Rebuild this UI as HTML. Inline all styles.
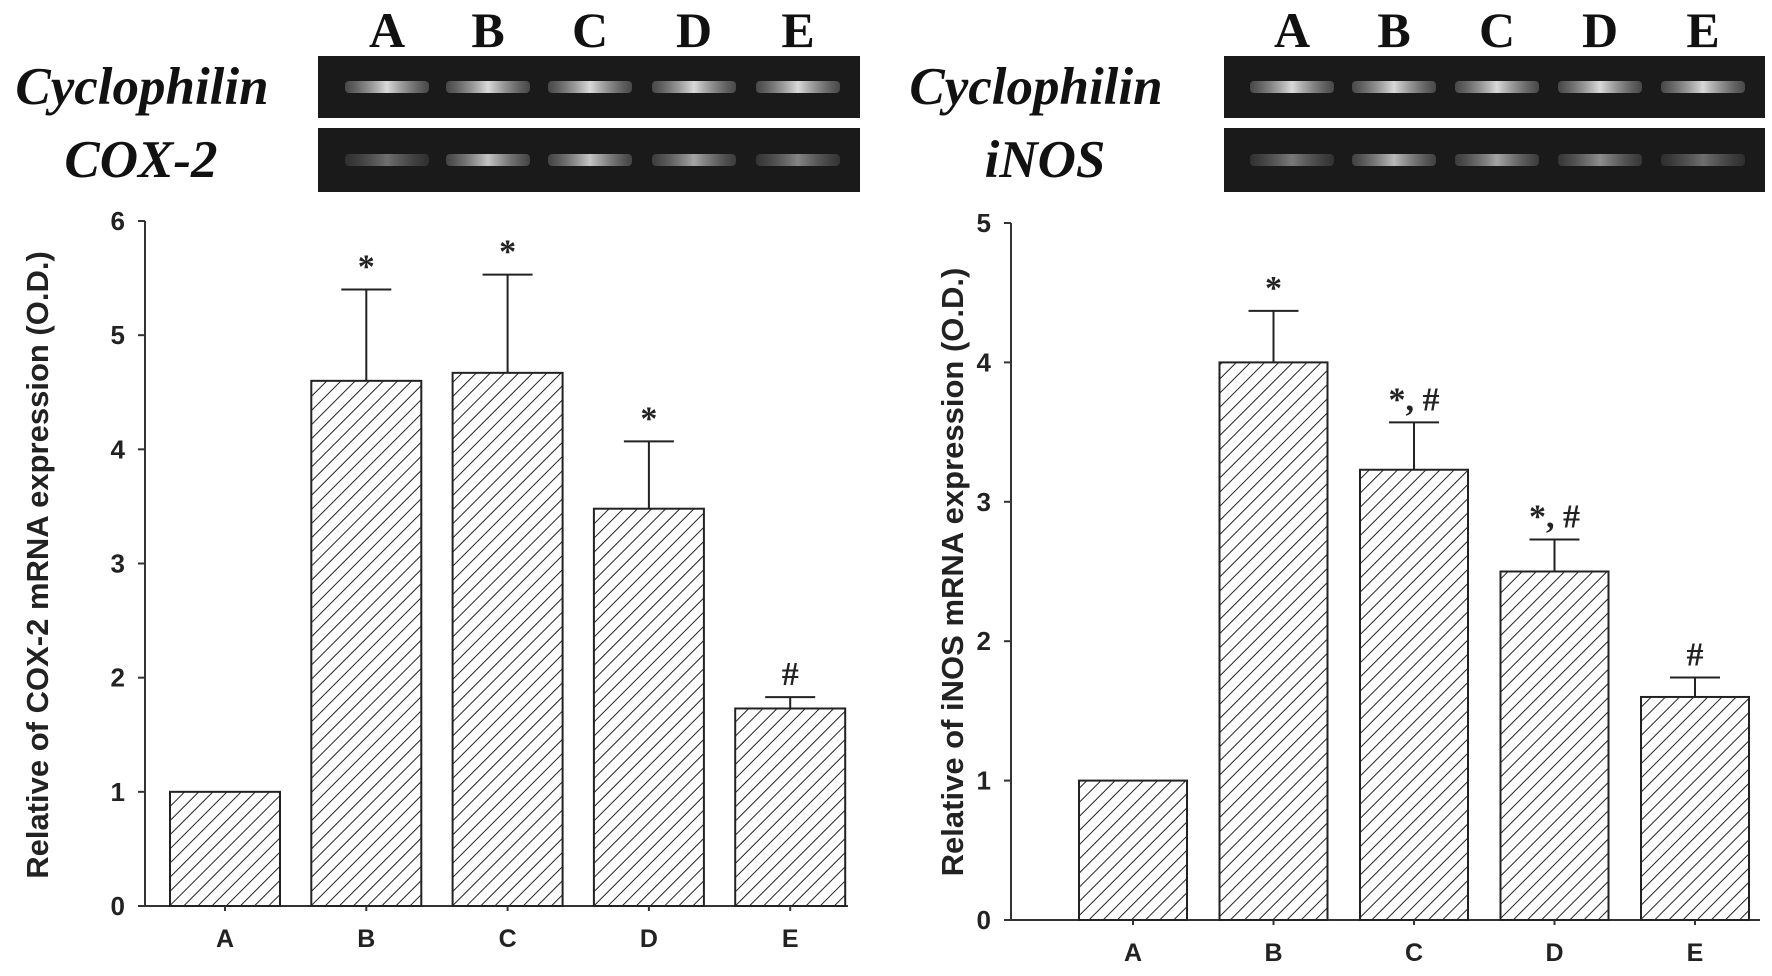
<!DOCTYPE html>
<html><head><meta charset="utf-8"><style>
html,body{margin:0;padding:0;background:#fff;width:1772px;height:976px;overflow:hidden}
svg{display:block}
text{font-family:"Liberation Sans",Arial,sans-serif}
.ser{font-family:"Liberation Serif","Times New Roman",serif;font-weight:bold}
</style></head><body>
<svg id="fig" width="1772" height="976" viewBox="0 0 1772 976">
<defs>
<pattern id="hatch" patternUnits="userSpaceOnUse" width="10" height="10" patternTransform="rotate(45)">
<line x1="0" y1="0" x2="0" y2="10" stroke="#222" stroke-width="2"/>
</pattern>
<linearGradient id="band" x1="0" x2="1"><stop offset="0" stop-color="#999" stop-opacity="0.4"/><stop offset="0.5" stop-color="#eee"/><stop offset="1" stop-color="#999" stop-opacity="0.4"/></linearGradient>
</defs>
</svg>
<script>
const categories=["A","B","C","D","E"];
const cox2Values=[1.0,4.6,4.67,3.48,1.73];
const cox2Upper=[1.0,5.4,5.53,4.07,1.83];
const cox2Marks=["","*","*","*","#"];
const cox2Ticks=[0,1,2,3,4,5,6];
const inosValues=[1.0,4.0,3.23,2.5,1.6];
const inosUpper=[1.0,4.37,3.57,2.73,1.74];
const inosMarks=["","*","*, #","*, #","#"];
const inosTicks=[0,1,2,3,4,5];
const cycloBand=[0.9,0.9,0.9,0.9,0.9];
const coxBand=[0.4,0.8,0.8,0.65,0.5];
const inosBand=[0.45,0.75,0.65,0.55,0.4];

const NS="http://www.w3.org/2000/svg";
const svg=document.getElementById('fig');
function el(tag,attrs,parent,txt){const e=document.createElementNS(NS,tag);for(const k in attrs)e.setAttribute(k,attrs[k]);if(txt!=null)e.textContent=txt;(parent||svg).appendChild(e);return e;}

function chart(cfg){
  const g=el('g',{});
  
  
  const ymax=cfg.ticks[cfg.ticks.length-1];
  const y=v=>cfg.y0-(cfg.y0-cfg.yTop)*v/ymax;
  const x=i=>cfg.firstBar+i*cfg.step;
  const ax=el('line',{x1:cfg.axX,y1:cfg.yTop,x2:cfg.axX,y2:cfg.y0,stroke:'#333','stroke-width':2},g);
  
  
  const xa=el('line',{x1:cfg.axX,y1:cfg.y0,x2:cfg.axEnd,y2:cfg.y0,stroke:'#333','stroke-width':2},g);
  
  
  cfg.ticks.forEach(t=>{
    el('line',{x1:cfg.axX-7,y1:y(t),x2:cfg.axX,y2:y(t),stroke:'#333','stroke-width':2},g);
    const tl=el('text',{x:cfg.axX-20,y:y(t)+9,'text-anchor':'end','font-size':26,'font-weight':'bold',fill:'#222'},g,String(t));
    
    
  });
  categories.forEach((c,i)=>{
    const bx=x(i),bt=y(cfg.values[i]),bw=cfg.barW;
    const r=el('rect',{x:bx,y:bt,width:bw,height:cfg.y0-bt,fill:'url(#hatch)',stroke:'#222','stroke-width':2},g);
    
    
    const cx=bx+bw/2;
    if(cfg.upper[i]>cfg.values[i]){
      const ey=y(cfg.upper[i]);
      const eb=el('path',{d:`M${cx} ${bt}V${ey}M${cx-25} ${ey}H${cx+25}`,stroke:'#222','stroke-width':2,fill:'none'},g);
      
      
    }
    if(cfg.marks[i]){
      const m=el('text',{x:cx,y:y(cfg.upper[i])-12,'text-anchor':'middle','font-size':34,'font-weight':'bold',class:'ser',fill:'#222'},g,cfg.marks[i]);
      
      
    }
    el('line',{x1:cx,y1:cfg.y0,x2:cx,y2:cfg.y0+5,stroke:'#333','stroke-width':2},g);
    const xl=el('text',{x:cx,y:cfg.y0+41,'text-anchor':'middle','font-size':25,'font-weight':'bold',fill:'#222'},g,c);
    
    
  });
  const yt=el('text',{x:0,y:0,transform:`translate(${cfg.titleX},${cfg.titleY}) rotate(-90)`,'text-anchor':'middle','font-size':31,'font-weight':'bold',fill:'#222'},g,cfg.title);
  
  
}

function gel(cfg){
  const g=el('g',{});
  
  
  [[cfg.top1,cfg.h1,cycloBand,cfg.label1,cfg.l1x],[cfg.top2,cfg.h2,cfg.band2,cfg.label2,cfg.l2x]].forEach(([t,h,band,lab,lx],k)=>{
    const r=el('rect',{x:cfg.x,y:t,width:cfg.w,height:h,fill:'#1a1a1a'},g);
    
    
    band.forEach((b,i)=>{
      const cx=cfg.letterX[i];
      const bd=el('rect',{x:cx-42,y:t+h/2-6,width:84,height:12,rx:4,fill:'url(#band)',opacity:b},g);
      
      
    });
    const tl=el('text',{x:lx,y:t+h/2+17,'text-anchor':'middle','font-size':53,'font-style':'italic',class:'ser',fill:'#111'},g,lab);
    
    
  });
  categories.forEach((c,i)=>{
    const l=el('text',{x:cfg.letterX[i],y:47,'text-anchor':'middle','font-size':50,class:'ser',fill:'#111'},g,c);
    
    
  });
}

gel({name:'cox2-gel',x:318,w:542,top1:56,h1:62,top2:128,h2:64,band2:coxBand,label1:'Cyclophilin',label2:'COX-2',l1x:142,l2x:141,letterX:[387,488,590,694,798]});
gel({name:'inos-gel',x:1224,w:541,top1:56,h1:62,top2:128,h2:64,band2:inosBand,label1:'Cyclophilin',label2:'iNOS',l1x:1036,l2x:1045,letterX:[1292,1394,1497,1600,1703]});

chart({name:'cox2-chart',values:cox2Values,upper:cox2Upper,marks:cox2Marks,ticks:cox2Ticks,axX:145,axEnd:848,y0:906,yTop:221,firstBar:170,step:141.3,barW:110,title:'Relative of COX-2 mRNA expression (O.D.)',titleX:48,titleY:565});
chart({name:'inos-chart',values:inosValues,upper:inosUpper,marks:inosMarks,ticks:inosTicks,axX:1011,axEnd:1760,y0:920,yTop:223,firstBar:1079,step:140.5,barW:108,title:'Relative of iNOS mRNA expression (O.D.)',titleX:963,titleY:572});
</script>
</body></html>
